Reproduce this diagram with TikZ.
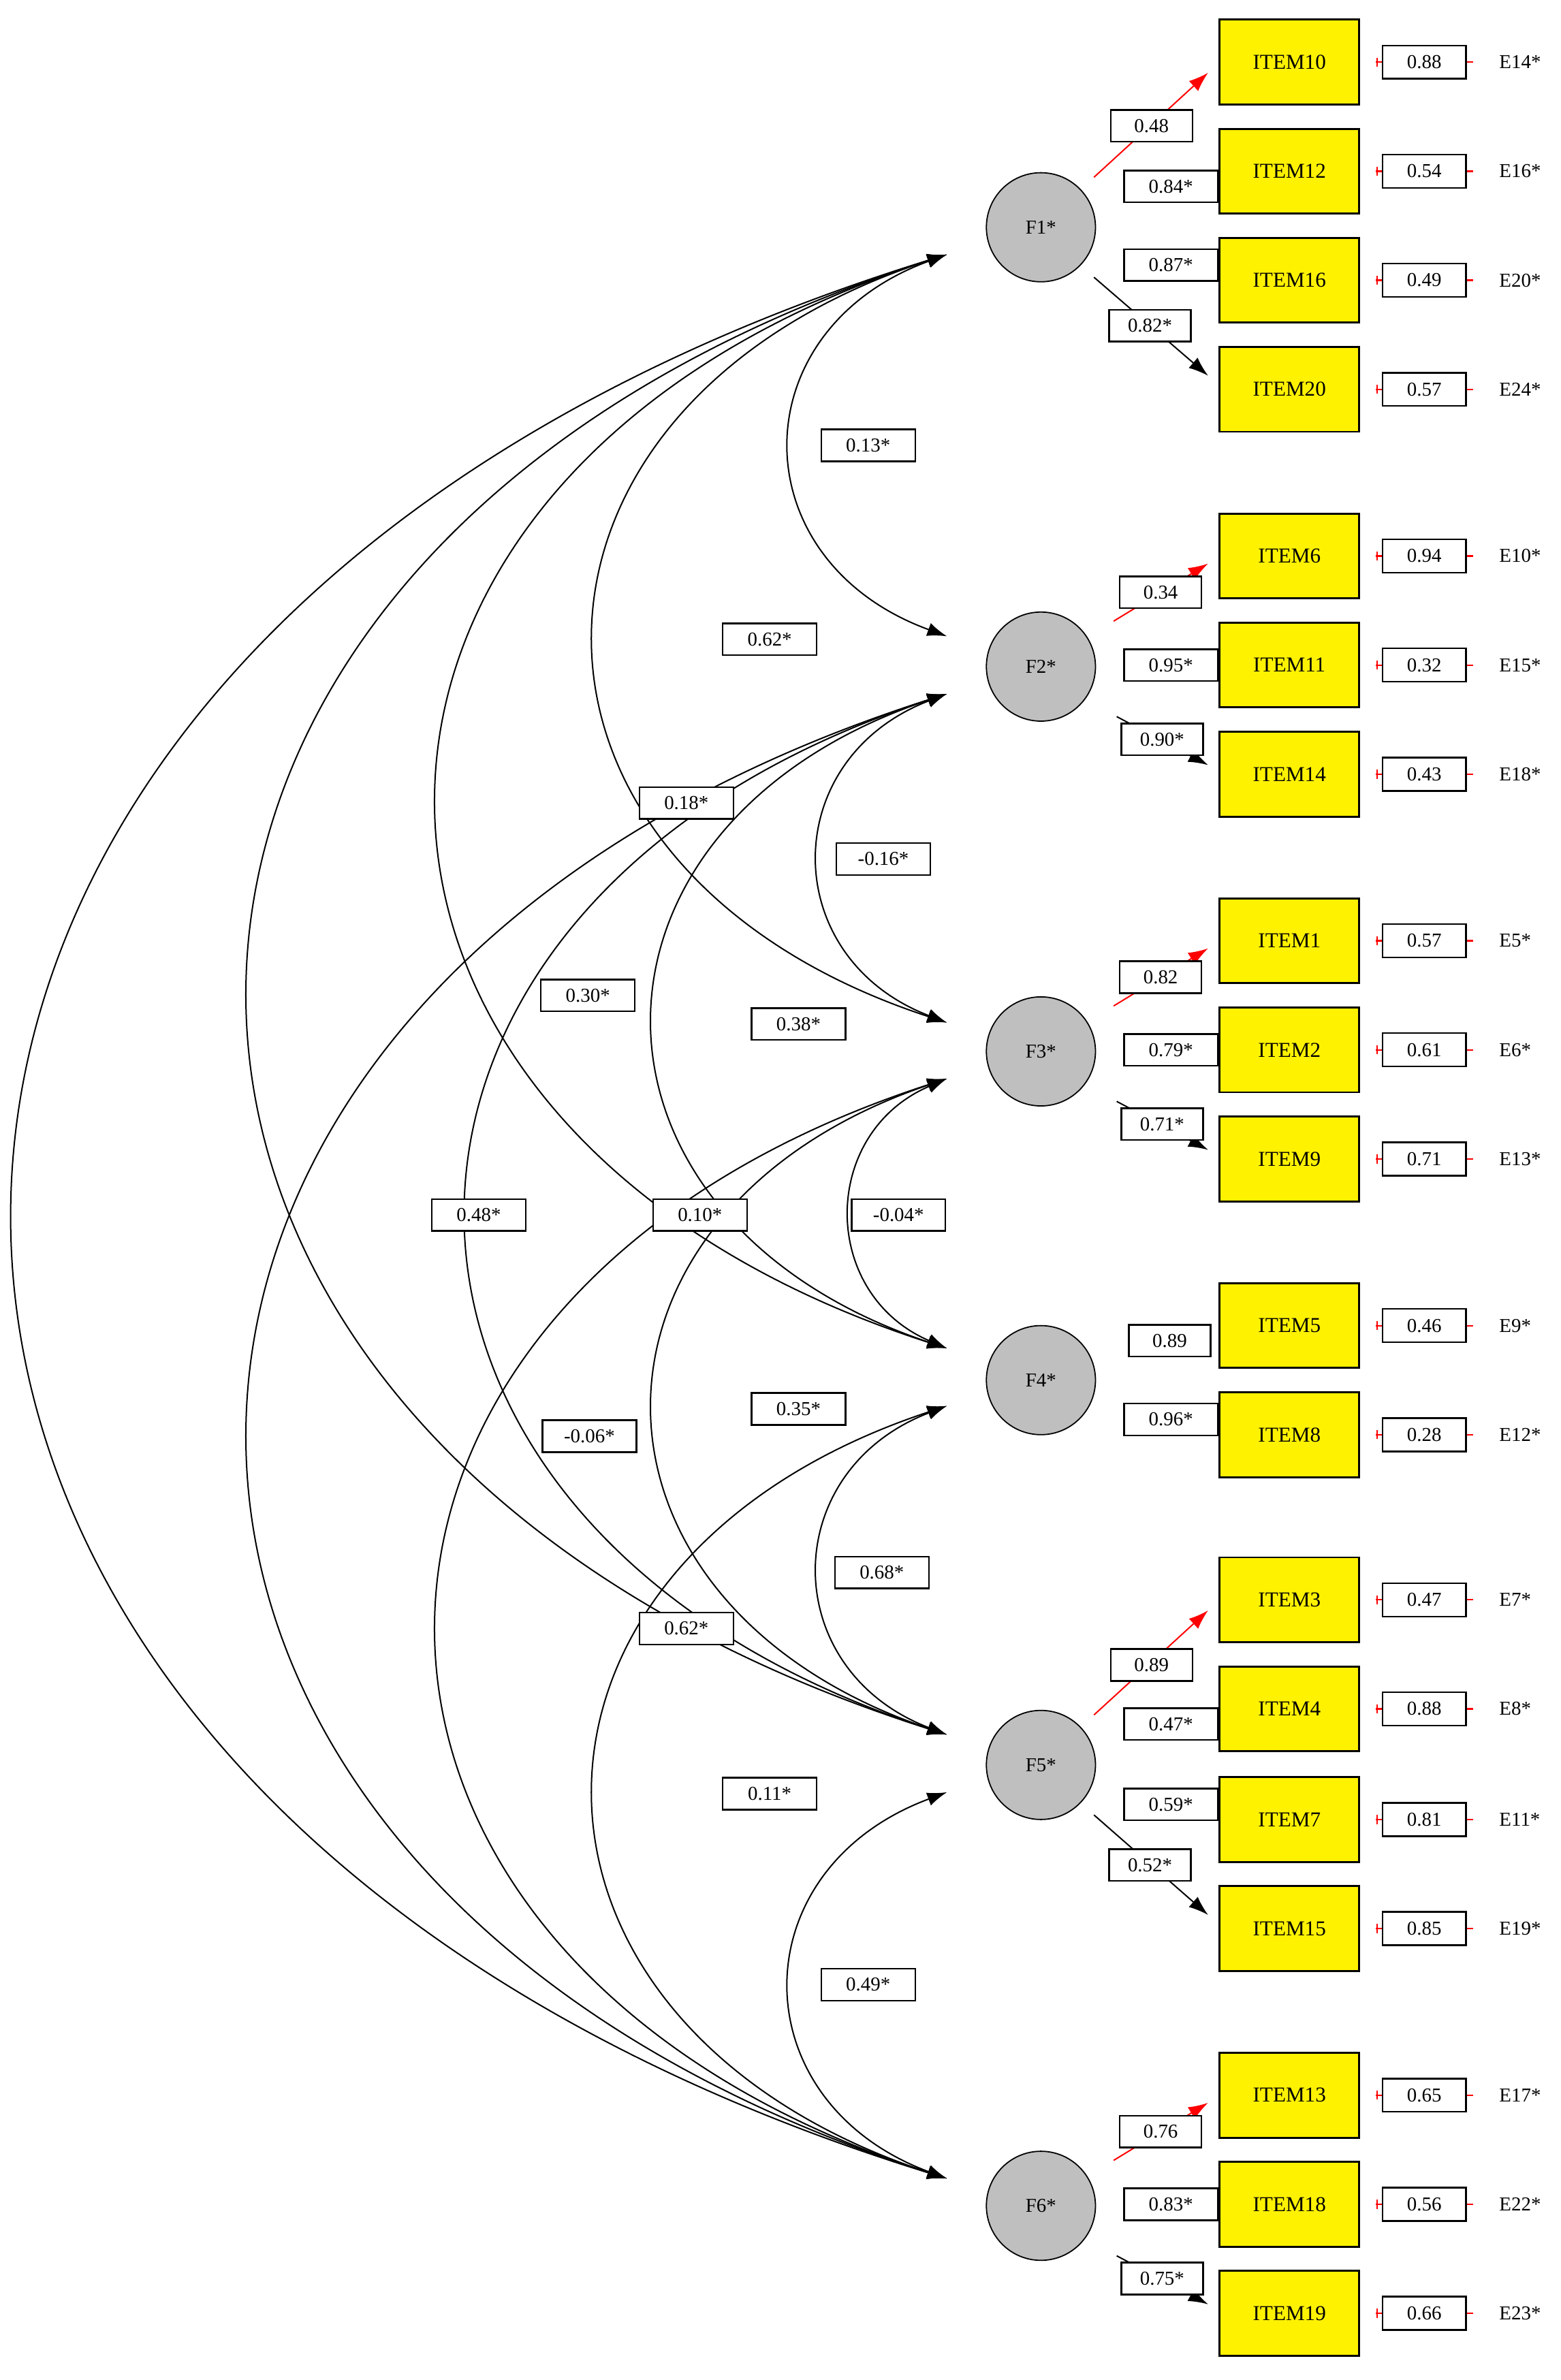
\documentclass[tikz,border=0pt]{standalone}
\usepackage{fontspec}
\setmainfont{Liberation Serif}
\usetikzlibrary{arrows.meta,calc}
\begin{document}
\begin{tikzpicture}[x=1pt,y=-1pt,
 fac/.style={circle,draw,thick,fill=gray!50,minimum size=72pt,inner sep=0pt,font=\fontsize{13}{13}\selectfont},
 item/.style={rectangle,draw,line width=1.3pt,fill=yellow,minimum width=92pt,minimum height=56pt,inner sep=0pt,font=\fontsize{14}{14}\selectfont},
 err/.style={rectangle,draw,line width=1.1pt,fill=white,minimum width=55pt,minimum height=22pt,inner sep=0pt,font=\fontsize{13}{13}\selectfont},
 lab/.style={rectangle,draw,line width=1.1pt,fill=white,minimum width=62pt,minimum height=21pt,inner sep=0pt,font=\fontsize{13}{13}\selectfont},
 ename/.style={font=\fontsize{13}{13}\selectfont},
 cov/.style={line width=0.9pt,{Latex[length=13pt,width=9pt]}-{Latex[length=13pt,width=9pt]}},
 ld/.style={line width=0.9pt,-{Latex[length=13pt,width=9pt]}},
 tick/.style={red,line width=1pt}]
\useasboundingbox (0,0) rectangle (1030,1571);
% factors
\foreach \n/\y in {1/150,2/440,3/694,4/911,5/1165,6/1456}
  \node[fac] (F\n) at (687,\y) {F\n*};
% covariance anchor points
\coordinate (F1b) at (625,168);
\coordinate (F2a) at (625,420); \coordinate (F2b) at (625,458);
\coordinate (F3a) at (625,675); \coordinate (F3b) at (625,712);
\coordinate (F4a) at (625,890); \coordinate (F4b) at (625,928);
\coordinate (F5a) at (625,1145); \coordinate (F5b) at (625,1183);
\coordinate (F6a) at (625,1438);
\foreach \s/\d/\c/\t in {F1b/F2a/137/50, F2b/F3a/112/43, F3b/F4a/84/36, F4b/F5a/112/43, F5b/F6a/137/51,
  F1b/F3a/309/101, F2b/F4a/257/86, F3b/F5a/257/87, F4b/F6a/309/102,
  F1b/F4a/447/144, F2b/F5a/421/137, F3b/F6a/447/145,
  F1b/F5a/613/195, F2b/F6a/613/196, F1b/F6a/820/254}
  \draw[cov] (\s) .. controls ($(\s)+(-\c,\t)$) and ($(\d)+(-\c,-\t)$) .. (\d);
% covariance labels
\foreach \x/\y/\v in {573/294/0.13*, 508/422/0.62*, 453/530/0.18*, 583/567/-0.16*, 388/657/0.30*,
  527/676/0.38*, 316/802/0.48*, 462/802/0.10*, 593/802/-0.04*, 389/948/-0.06*, 527/930/0.35*,
  582/1038/0.68*, 453/1075/0.62*, 508/1184/0.11*, 573/1310/0.49*}
  \node[lab] at (\x,\y) {\v};
% items with errors
\foreach \i/\y/\e/\en in {10/41/0.88/E14*, 12/113/0.54/E16*, 16/185/0.49/E20*, 20/257/0.57/E24*,
  6/367/0.94/E10*, 11/439/0.32/E15*, 14/511/0.43/E18*,
  1/621/0.57/E5*, 2/693/0.61/E6*, 9/765/0.71/E13*,
  5/875/0.46/E9*, 8/947/0.28/E12*,
  3/1056/0.47/E7*, 4/1128/0.88/E8*, 7/1201/0.81/E11*, 15/1273/0.85/E19*,
  13/1383/0.65/E17*, 18/1455/0.56/E22*, 19/1527/0.66/E23*}{
  \node[item] (I\i) at (851,\y) {ITEM\i};
  \node[err] (R\i) at (940,\y) {\e};
  \node[ename,anchor=west] (N\i) at (986,\y) {\en};
  \draw[tick] ($(R\i.west)+(-4,0)$) -- (R\i.west);
  \draw[tick] ($(R\i.west)+(-3,-3)$) -- ($(R\i.west)+(-3,3)$);
  \draw[tick] (R\i.east) -- ($(R\i.east)+(4,0)$);
}
% loadings: first (red) arrows
\foreach \f/\i/\dy in {1/10/-33, 5/3/-33}{
  \coordinate (s\i) at ($(F\f)+(35,\dy)$);
  \coordinate (t\i) at ($(I\i.west)+(-7,7)$);
  \draw[ld,red] (s\i) -- (t\i);
}
\foreach \f/\i in {2/6, 3/1, 6/13}{
  \coordinate (s\i) at ($(F\f)+(48,-30)$);
  \coordinate (t\i) at ($(I\i.west)+(-7,5)$);
  \draw[ld,red] (s\i) -- (t\i);
}
% last (black) arrows
\foreach \f/\i in {1/20, 5/15}{
  \coordinate (s\i) at ($(F\f)+(35,33)$);
  \coordinate (t\i) at ($(I\i.west)+(-7,-9)$);
  \draw[ld] (s\i) -- (t\i);
}
\foreach \f/\i in {2/14, 3/9, 6/19}{
  \coordinate (s\i) at ($(F\f)+(50,33)$);
  \coordinate (t\i) at ($(I\i.west)+(-7,-6)$);
  \draw[ld] (s\i) -- (t\i);
}
% loading labels (on arrows)
\node[lab,minimum width=54pt] at (760,83) {0.48};
\node[lab,minimum width=54pt] at (759,215) {0.82*};
\node[lab,minimum width=54pt] at (766,391) {0.34};
\node[lab,minimum width=54pt] at (767,488) {0.90*};
\node[lab,minimum width=54pt] at (766,645) {0.82};
\node[lab,minimum width=54pt] at (767,742) {0.71*};
\node[lab,minimum width=54pt] at (772,885) {0.89};
\node[lab,minimum width=54pt] at (760,1099) {0.89};
\node[lab,minimum width=54pt] at (759,1231) {0.52*};
\node[lab,minimum width=54pt] at (766,1407) {0.76};
\node[lab,minimum width=54pt] at (767,1504) {0.75*};
% middle loading labels adjacent to items
\foreach \i/\dy/\v in {12/10/0.84*, 16/-10/0.87*, 11/0/0.95*, 2/0/0.79*, 8/-10/0.96*,
  4/10/0.47*, 7/-10/0.59*, 18/0/0.83*}
  \node[lab,anchor=east] at ($(I\i.west)+(0,\dy)$) {\v};
\end{tikzpicture}
\end{document}
